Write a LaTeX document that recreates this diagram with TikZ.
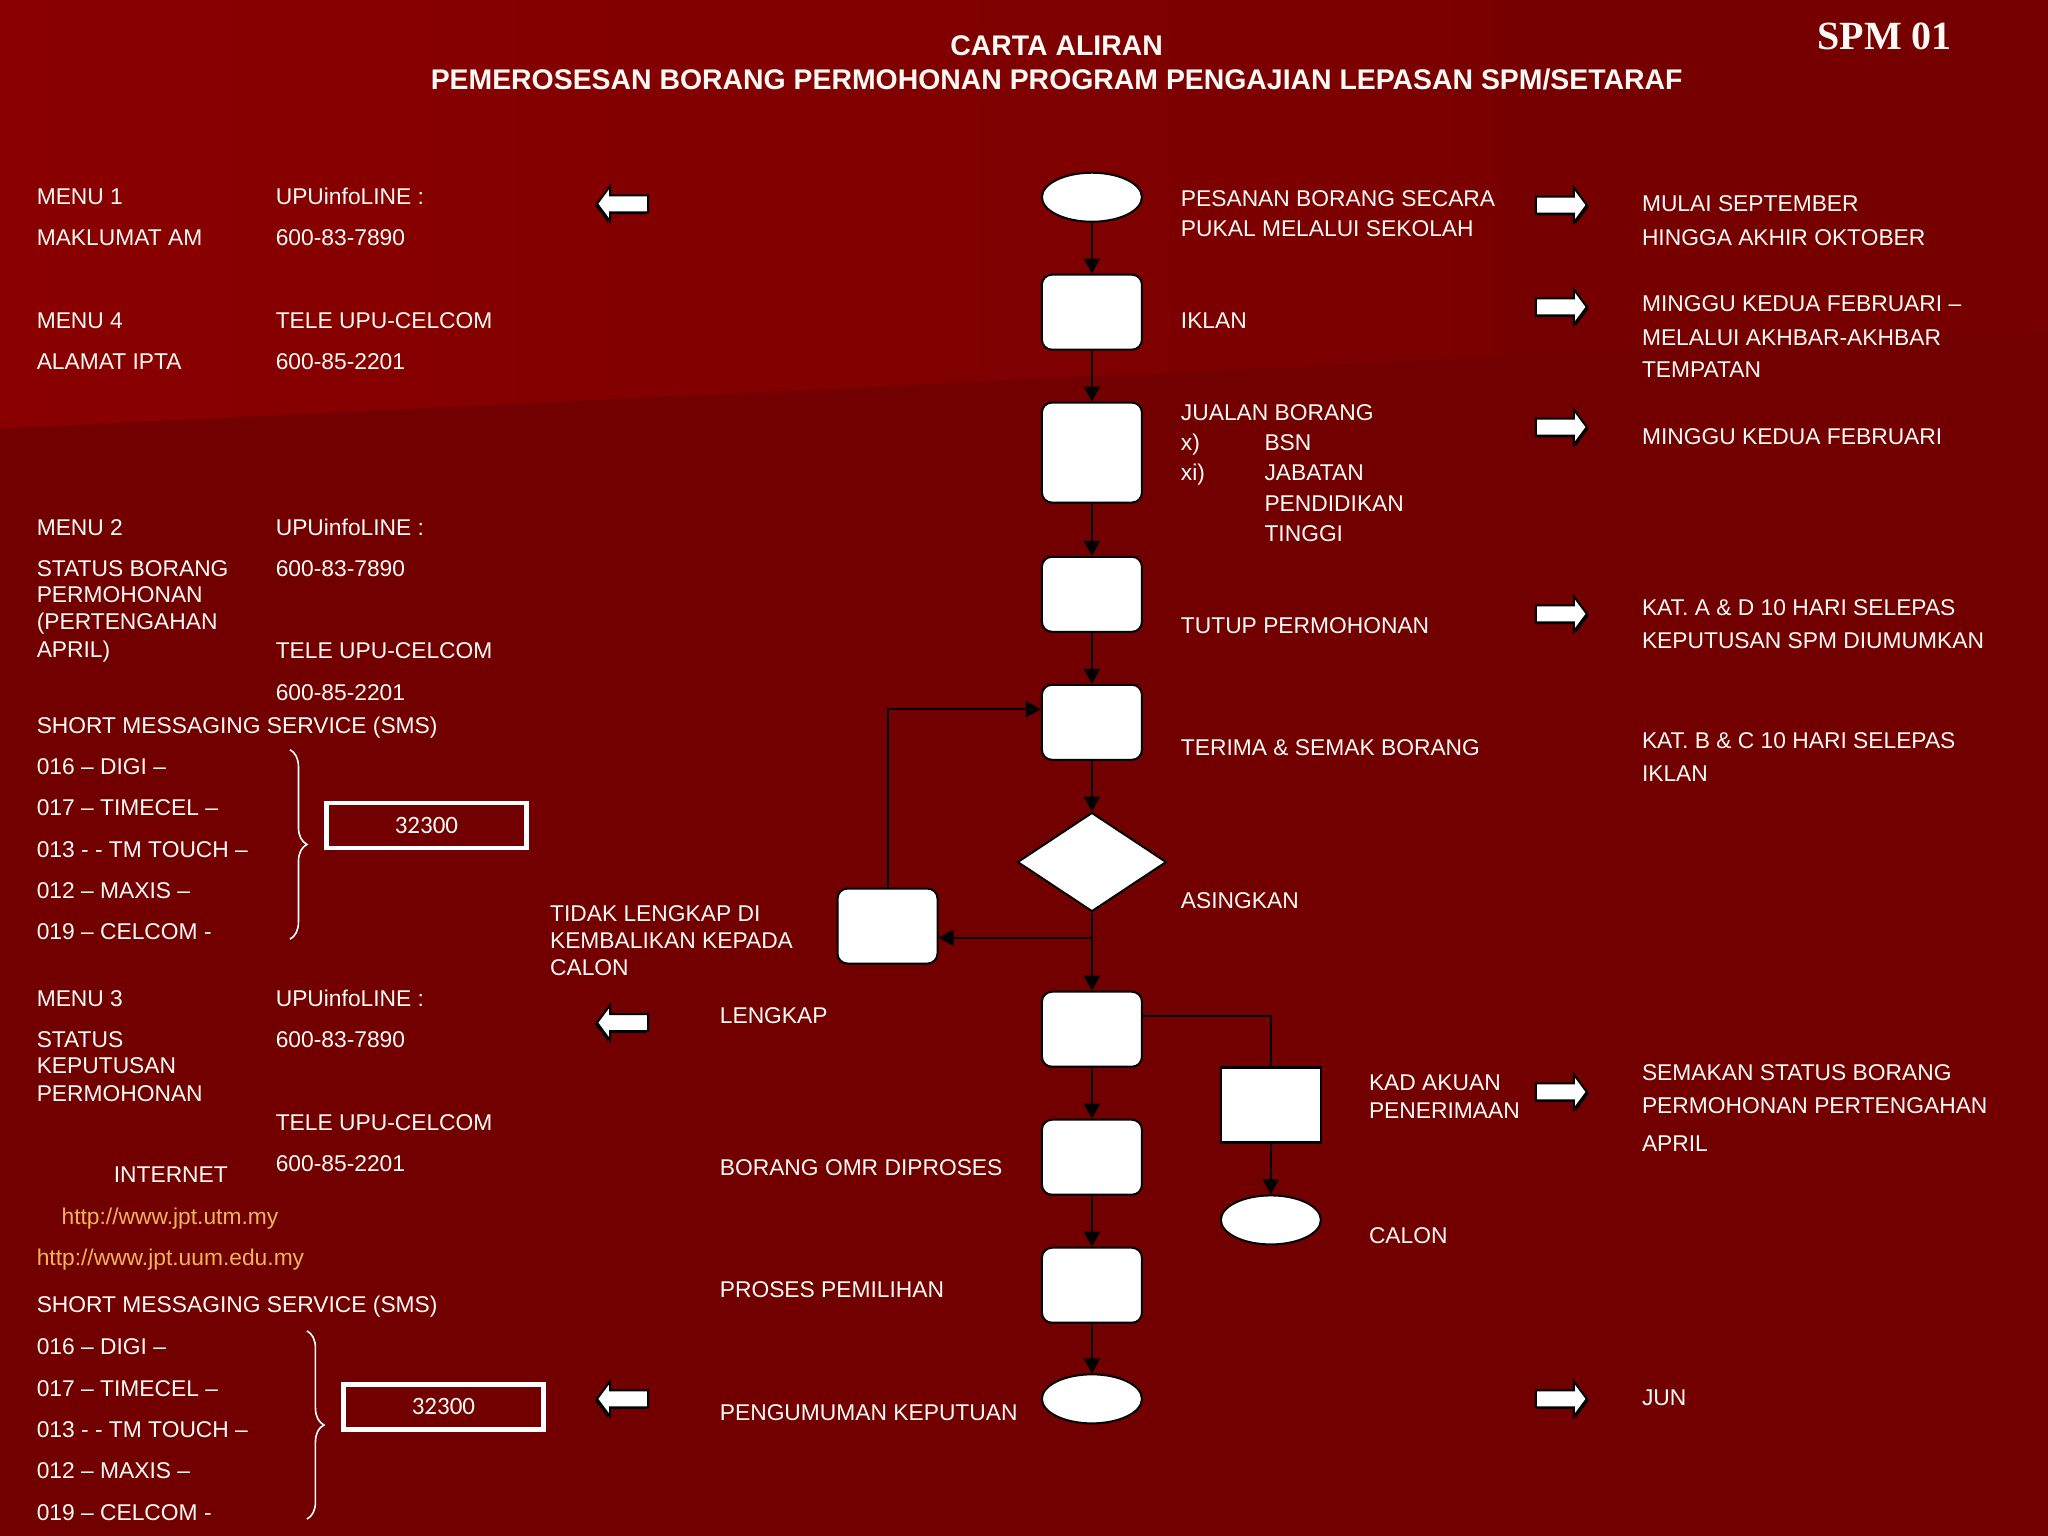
\documentclass[tikz,border=0pt]{standalone}
\usepackage{fontspec}
\setmainfont{Liberation Sans}
\newfontfamily\serifbold{Liberation Serif}
\newfontfamily\carl{Carlito}
\usetikzlibrary{shapes.geometric,arrows.meta,decorations.pathreplacing}
\definecolor{bgdark}{RGB}{115,0,0}
\definecolor{bglight}{RGB}{138,0,0}
\definecolor{bgmid}{RGB}{122,0,0}
\definecolor{bgright}{RGB}{118,0,0}
\definecolor{urlc}{RGB}{240,180,90}
\definecolor{txtc}{RGB}{255,250,245}
\tikzset{
  txt/.style={anchor=west, inner sep=0pt, text=txtc, font=\fontsize{22.8}{27}\selectfont, text height=16.3pt, text depth=0pt},
  urltxt/.style={txt, text=urlc},
  ttl/.style={inner sep=0pt, text=txtc, font=\bfseries\fontsize{28.4}{32}\selectfont, text height=20.3pt, text depth=0pt},
  box/.style={draw=black, fill=white, line width=2pt, rounded corners=10pt, minimum width=100pt, minimum height=75pt, inner sep=0pt},
  tallbox/.style={box, minimum height=100pt},
  oval/.style={ellipse, draw=black, fill=white, line width=2pt, minimum width=100pt, minimum height=49pt, inner sep=0pt},
  dia/.style={diamond, draw=black, fill=white, line width=2pt, minimum width=149pt, minimum height=99pt, inner sep=0pt},
  sq/.style={draw=black, fill=white, line width=2.5pt, minimum width=100pt, minimum height=75pt, inner sep=0pt},
  arr/.style={draw=black, line width=2pt, -{Triangle[length=15pt,width=16pt]}},
  ln/.style={draw=black, line width=2pt},
  smsbox/.style={draw=white, line width=4.8pt, minimum width=200pt, minimum height=45pt, inner sep=0pt, text=txtc, font=\carl\fontsize{25}{30}\selectfont},
  brc/.style={draw=white, line width=1.6pt, decorate, decoration={brace, amplitude=17pt}},
  blk/.style={draw=black, fill=white, line width=2pt, line join=miter},
  rblk/.pic={
    \begin{scope}[shift={(1.8pt,-1.8pt)}]
      \fill[black] (-25pt,-8.5pt) -- (13pt,-8.5pt) -- (13pt,-17.5pt) -- (26pt,0pt) -- (13pt,17.5pt) -- (13pt,8.5pt) -- (-25pt,8.5pt) -- cycle;
    \end{scope}
    \path[blk] (-25pt,-8.5pt) -- (13pt,-8.5pt) -- (13pt,-17.5pt) -- (26pt,0pt) -- (13pt,17.5pt) -- (13pt,8.5pt) -- (-25pt,8.5pt) -- cycle;
  }
}
\begin{document}
\begin{tikzpicture}[x=1.30612pt, y=-1.30612pt]
\useasboundingbox (0,0) rectangle (1568,1176);
% background
\fill[bgdark] (0,0) rectangle (1568,1176);
\shade[left color=bglight, right color=bgmid] (0,0) -- (1148,0) -- (1148,273) -- (0,328) -- cycle;
\fill[bgright] (1148,0) -- (1568,0) -- (1568,255) -- (1148,273) -- cycle;

% titles
\node[ttl] (title1) at (809,35) {CARTA ALIRAN};
\node[ttl] (title2) at (809,61) {PEMEROSESAN BORANG PERMOHONAN PROGRAM PENGAJIAN LEPASAN SPM/SETARAF};
\node[inner sep=0pt, text=txtc, font=\serifbold\bfseries\fontsize{40}{44}\selectfont, text height=26.5pt, text depth=0pt] (spm) at (1443,28) {SPM 01};

% flowchart nodes
\node[oval] (n1) at (836,151) {};
\node[box] (n2) at (836,239) {};
\node[tallbox] (n3) at (836,346.5) {};
\node[box] (n4) at (836,455) {};
\node[box] (n5) at (836,553) {};
\node[dia] (n6) at (836,660) {};
\node[box] (n7) at (836,788) {};
\node[box] (n8) at (836,886) {};
\node[box] (n9) at (836,984) {};
\node[oval] (n10) at (836,1071) {};
\node[box] (s1) at (679.5,709) {};
\node[sq] (k1) at (973,846) {};
\node[oval] (k2) at (973,934) {};

\coordinate (lp) at (679.5,543);
\coordinate (j1) at (836,718);
\coordinate (k0) at (973,778);

% connectors
\draw[arr] (n1.south) -- (n2.north);
\draw[arr] (n2.south) -- (n3.north);
\draw[arr] (n3.south) -- (n4.north);
\draw[arr] (n4.south) -- (n5.north);
\draw[arr] (n5.south) -- (n6.north);
\draw[arr] (n6.south) -- (n7.north);
\draw[arr] (j1) -- (s1.east |- j1);
\draw[arr] (s1.north) -- (lp) -- (n5.west |- lp);
\draw[ln] (n7.east |- k0) -- (k0) -- (k1.north);
\draw[arr] (k1.south) -- (k2.north);
\draw[arr] (n7.south) -- (n8.north);
\draw[arr] (n8.south) -- (n9.north);
\draw[arr] (n9.south) -- (n10.north);

% block arrows
\pic[xscale=-1] at (477,156) {rblk};
\pic[xscale=-1] at (477,783) {rblk};
\pic[xscale=-1] at (477,1071) {rblk};
\pic at (1195,157) {rblk};
\pic at (1195,235) {rblk};
\pic at (1195,327) {rblk};
\pic at (1195,470) {rblk};
\pic at (1195,836) {rblk};
\pic at (1195,1071) {rblk};

% braces and sms boxes
\draw[brc] (222,574) -- (222,719);
\draw[brc] (235,1019) -- (235,1163);
\node[smsbox] (b1) at (326.5,632) {32300};
\node[smsbox] (b2) at (339.5,1077) {32300};

% left column texts
\node[txt] (a1) at (28,150) {MENU 1};
\node[txt] (a2) at (211,150) {UPUinfoLINE :};
\node[txt] (a3) at (28,182) {MAKLUMAT AM};
\node[txt] (a4) at (211,182) {600-83-7890};
\node[txt] (a5) at (28,245) {MENU 4};
\node[txt] (a6) at (211,245) {TELE UPU-CELCOM};
\node[txt] (a7) at (28,277) {ALAMAT IPTA};
\node[txt] (a8) at (211,277) {600-85-2201};
\node[txt] (a9) at (28,404) {MENU 2};
\node[txt] (a10) at (211,404) {UPUinfoLINE :};
\node[txt] (a11) at (28,435) {STATUS BORANG};
\node[txt] (a12) at (211,435) {600-83-7890};
\node[txt] (a13) at (28,455) {PERMOHONAN};
\node[txt] (a14) at (28,476) {(PERTENGAHAN};
\node[txt] (a15) at (28,497) {APRIL)};
\node[txt] (a16) at (211,498) {TELE UPU-CELCOM};
\node[txt] (a17) at (211,530) {600-85-2201};
\node[txt] (a18) at (28,555) {SHORT MESSAGING SERVICE (SMS)};
\node[txt] (a19) at (28,587) {016 – DIGI –};
\node[txt] (a20) at (28,618) {017 – TIMECEL –};
\node[txt] (a21) at (28,650) {013 - - TM TOUCH –};
\node[txt] (a22) at (28,682) {012 – MAXIS –};
\node[txt] (a23) at (28,713) {019 – CELCOM -};
\node[txt] (a24) at (28,764) {MENU 3};
\node[txt] (a25) at (211,764) {UPUinfoLINE :};
\node[txt] (a26) at (28,796) {STATUS};
\node[txt] (a27) at (211,796) {600-83-7890};
\node[txt] (a28) at (28,816) {KEPUTUSAN};
\node[txt] (a29) at (28,837) {PERMOHONAN};
\node[txt] (a30) at (211,859) {TELE UPU-CELCOM};
\node[txt] (a31) at (87,899) {INTERNET};
\node[txt] (a32) at (211,891) {600-85-2201};
\node[urltxt] (a33) at (47,931) {http://www.jpt.utm.my};
\node[urltxt] (a34) at (28,963) {http://www.jpt.uum.edu.my};
\node[txt] (a35) at (28,999) {SHORT MESSAGING SERVICE (SMS)};
\node[txt] (a36) at (28,1031) {016 – DIGI –};
\node[txt] (a37) at (28,1063) {017 – TIMECEL –};
\node[txt] (a38) at (28,1094) {013 - - TM TOUCH –};
\node[txt] (a39) at (28,1126) {012 – MAXIS –};
\node[txt] (a40) at (28,1158) {019 – CELCOM -};

% middle texts
\node[txt] (m1) at (421,699) {TIDAK LENGKAP DI};
\node[txt] (m2) at (421,720) {KEMBALIKAN KEPADA};
\node[txt] (m3) at (421,741) {CALON};
\node[txt] (m4) at (551,777) {LENGKAP};
\node[txt] (m5) at (551,894) {BORANG OMR DIPROSES};
\node[txt] (m6) at (551,987) {PROSES PEMILIHAN};
\node[txt] (m7) at (551,1081) {PENGUMUMAN KEPUTUAN};

% right-of-chart texts
\node[txt] (c1) at (904,152) {PESANAN BORANG SECARA};
\node[txt] (c2) at (904,175) {PUKAL MELALUI SEKOLAH};
\node[txt] (c3) at (904,245) {IKLAN};
\node[txt] (c4) at (904,316) {JUALAN BORANG};
\node[txt] (c5) at (904,339) {x)};
\node[txt] (c6) at (968,339) {BSN};
\node[txt] (c7) at (904,362) {xi)};
\node[txt] (c8) at (968,362) {JABATAN};
\node[txt] (c9) at (968,385) {PENDIDIKAN};
\node[txt] (c10) at (968,408) {TINGGI};
\node[txt] (c11) at (904,479) {TUTUP PERMOHONAN};
\node[txt] (c12) at (904,572) {TERIMA \& SEMAK BORANG};
\node[txt] (c13) at (904,689) {ASINGKAN};
\node[txt] (c14) at (1048,829) {KAD AKUAN};
\node[txt] (c15) at (1048,850) {PENERIMAAN};
\node[txt] (c16) at (1048,946) {CALON};

% far right texts
\node[txt] (r1) at (1257,156) {MULAI SEPTEMBER};
\node[txt] (r2) at (1257,182) {HINGGA AKHIR OKTOBER};
\node[txt] (r3) at (1257,232) {MINGGU KEDUA FEBRUARI –};
\node[txt] (r4) at (1257,258) {MELALUI AKHBAR-AKHBAR};
\node[txt] (r5) at (1257,283) {TEMPATAN};
\node[txt] (r6) at (1257,334) {MINGGU KEDUA FEBRUARI};
\node[txt] (r7) at (1257,465) {KAT. A \& D 10 HARI SELEPAS};
\node[txt] (r8) at (1257,490) {KEPUTUSAN SPM DIUMUMKAN};
\node[txt] (r9) at (1257,567) {KAT. B \& C 10 HARI SELEPAS};
\node[txt] (r10) at (1257,592) {IKLAN};
\node[txt] (r11) at (1257,821) {SEMAKAN STATUS BORANG};
\node[txt] (r12) at (1257,846) {PERMOHONAN PERTENGAHAN};
\node[txt] (r13) at (1257,875) {APRIL};
\node[txt] (r14) at (1257,1070) {JUN};
\end{tikzpicture}
\end{document}
